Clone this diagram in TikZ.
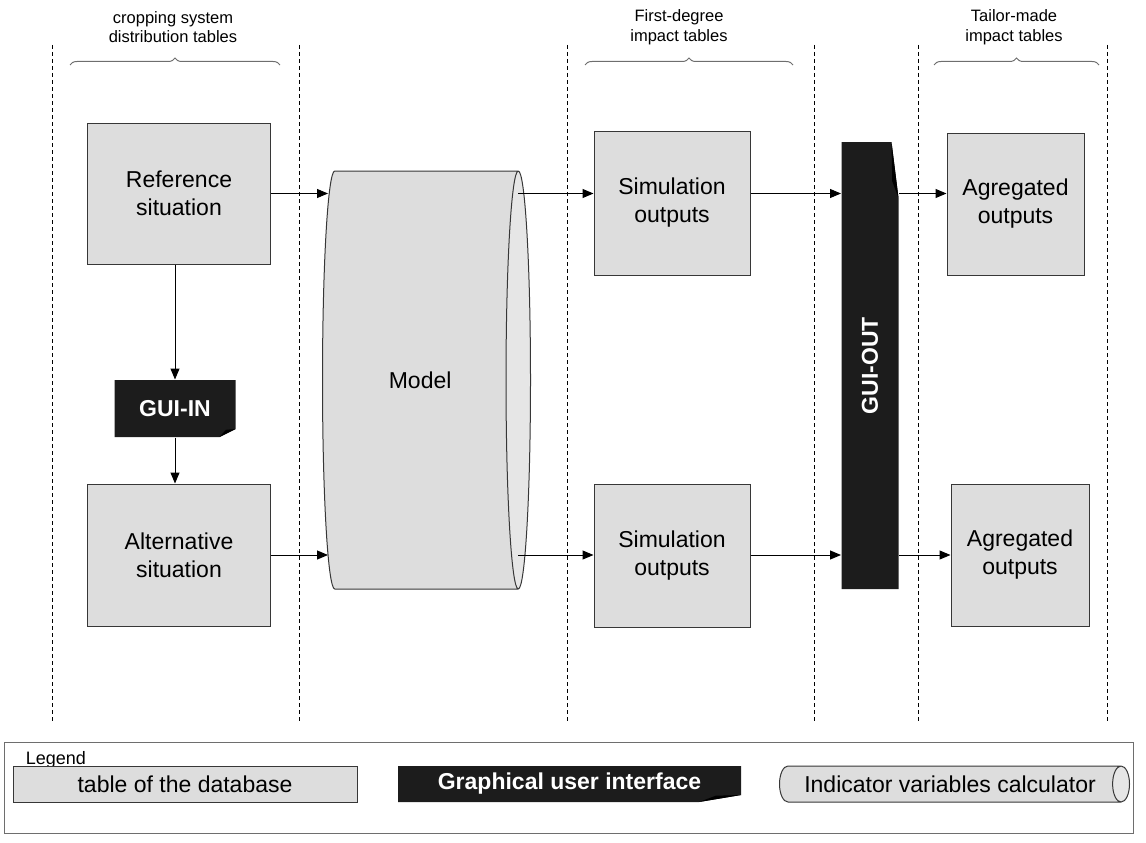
\documentclass[tikz,border=0pt]{standalone}
\usepackage{fontspec}
\setmainfont{Liberation Sans}
\usetikzlibrary{arrows.meta,shapes.geometric,decorations.pathreplacing}

\definecolor{tblgray}{RGB}{221,221,221}
\definecolor{endgray}{RGB}{230,230,230}
\definecolor{guiblack}{RGB}{28,28,28}
\definecolor{edgegray}{RGB}{55,55,55}
\definecolor{bracegray}{RGB}{110,110,110}

\newcommand{\ppbb}{path picture bounding box}
\newcommand{\boxfont}{\fontsize{23}{28}\selectfont}
\newcommand{\headfont}{\fontsize{16.5}{19.5}\selectfont}

\tikzset{
  dbtable/.style={draw=edgegray, fill=tblgray, align=center, font=\boxfont, inner sep=0pt},
  calc cyl/.style={cylinder, draw=edgegray, cylinder uses custom fill,
    cylinder body fill=tblgray, cylinder end fill=endgray, inner sep=0pt, font=\boxfont},
  % black card with the folded corner at the bottom right
  dogear/.style 2 args={text=white, font=\boxfont\bfseries, inner sep=0pt,
    path picture={
      \fill[guiblack] (\ppbb.north west) -- (\ppbb.north east) -- ([yshift=#2]\ppbb.south east)
        -- ([xshift=-#1]\ppbb.south east) -- (\ppbb.south west) -- cycle;
      \fill[black] ([xshift=-#1]\ppbb.south east) -- ([yshift=#2]\ppbb.south east)
        -- ([xshift=-0.6*#1, yshift=0.9*#2]\ppbb.south east) -- cycle;}},
  % same card, folded corner at the top right
  dogearup/.style 2 args={text=white, font=\boxfont\bfseries, inner sep=0pt,
    path picture={
      \fill[guiblack] (\ppbb.north west) -- ([xshift=-#1]\ppbb.north east) -- ([yshift=-#2]\ppbb.north east)
        -- (\ppbb.south east) -- (\ppbb.south west) -- cycle;
      \fill[black] ([xshift=-#1]\ppbb.north east) -- ([yshift=-#2]\ppbb.north east)
        -- ([xshift=-0.9*#1, yshift=-0.7*#2]\ppbb.north east) -- cycle;}},
}

\begin{document}
\begin{tikzpicture}[x=1pt, y=-1pt, line width=1pt,
  arr/.style={-{Triangle[length=11pt,width=9pt]}},
  sep/.style={dash pattern=on 4pt off 3pt, line width=0.9pt},
  brace/.style={draw=bracegray, decorate, decoration={brace, amplitude=7pt}}]
\useasboundingbox (0,0) rectangle (1146,843);

% column separators
\foreach \x in {52,299,567,814,918,1107}
  \draw[sep] (\x,45) -- (\x,722);

% column headings
\node[font=\headfont, align=center] (hcrop) at (173,27) {cropping system\\distribution tables};
\node[font=\headfont, align=center] (hfirst) at (679,27) {First-degree\\impact tables};
\node[font=\headfont, align=center] (htailor) at (1014,27) {Tailor-made\\impact tables};
\draw[brace] (70,65) -- (280,65);
\draw[brace] (585,65) -- (793,65);
\draw[brace] (934,65) -- (1099,65);

% input tables
\node[dbtable, minimum width=183, minimum height=141] (ref) at (179,193.5) {Reference\\situation};
\node[dbtable, minimum width=183, minimum height=142] (alt) at (179,555) {Alternative\\situation};
\node[dogear={16pt}{8pt}, minimum width=121, minimum height=57] (guiin) at (175,408.5) {GUI-IN};

% the model (cylinder lies on its side: height is the length)
\node[calc cyl, minimum height=208, minimum width=418, shape aspect=1.45, anchor=west] (model) at (322,380) {Model};

% output tables
\node[dbtable, minimum width=156, minimum height=144] (sim1) at (672,203) {Simulation\\outputs};
\node[dbtable, minimum width=156, minimum height=143] (sim2) at (672,555.5) {Simulation\\outputs};
\node[dogearup={7pt}{56pt}, minimum width=57, minimum height=447] (guiout) at (870,365.5) {\rotatebox{90}{GUI-OUT}};
\node[dbtable, minimum width=137, minimum height=142] (agg1) at (1015.5,204) {Agregated\\outputs};
\node[dbtable, minimum width=138, minimum height=142] (agg2) at (1020,555) {Agregated\\outputs};

% flows
\draw[arr] (ref.south -| guiin) -- (guiin);
\draw[arr] (guiin) -- (alt.north -| guiin);
\draw[arr] (ref.east) -- ([xshift=6pt]ref.east -| model.west);
\draw[arr] (alt.east) -- ([xshift=6pt]alt.east -| model.west);
\draw[arr] ([xshift=-13pt]model.east |- ref.east) -- (sim1.west |- ref.east);
\draw[arr] ([xshift=-13pt]model.east |- alt.east) -- (sim2.west |- alt.east);
\draw[arr] (sim1.east |- ref.east) -- (guiout.west |- ref.east);
\draw[arr] (sim2.east |- alt.east) -- (guiout.west |- alt.east);
\draw[arr] (guiout.east |- ref.east) -- (agg1.west |- ref.east);
\draw[arr] (guiout.east |- alt.east) -- (agg2.west |- alt.east);

% legend
\draw[draw=bracegray] (4,742) rectangle (1133,833);
\node[anchor=west, font=\fontsize{18}{22}\selectfont] (legend) at (22,760) {Legend};
\node[dbtable, minimum width=344, minimum height=36] (keytable) at (185,784) {table of the database};
\node[dogear={42pt}{7pt}, minimum width=343, minimum height=36] (keygui) at (569.5,784) {Graphical user interface};
\node[calc cyl, minimum height=350, minimum width=36, shape aspect=1.0, anchor=west] (keycalc) at (779,784) {Indicator variables calculator};

\end{tikzpicture}
\end{document}
